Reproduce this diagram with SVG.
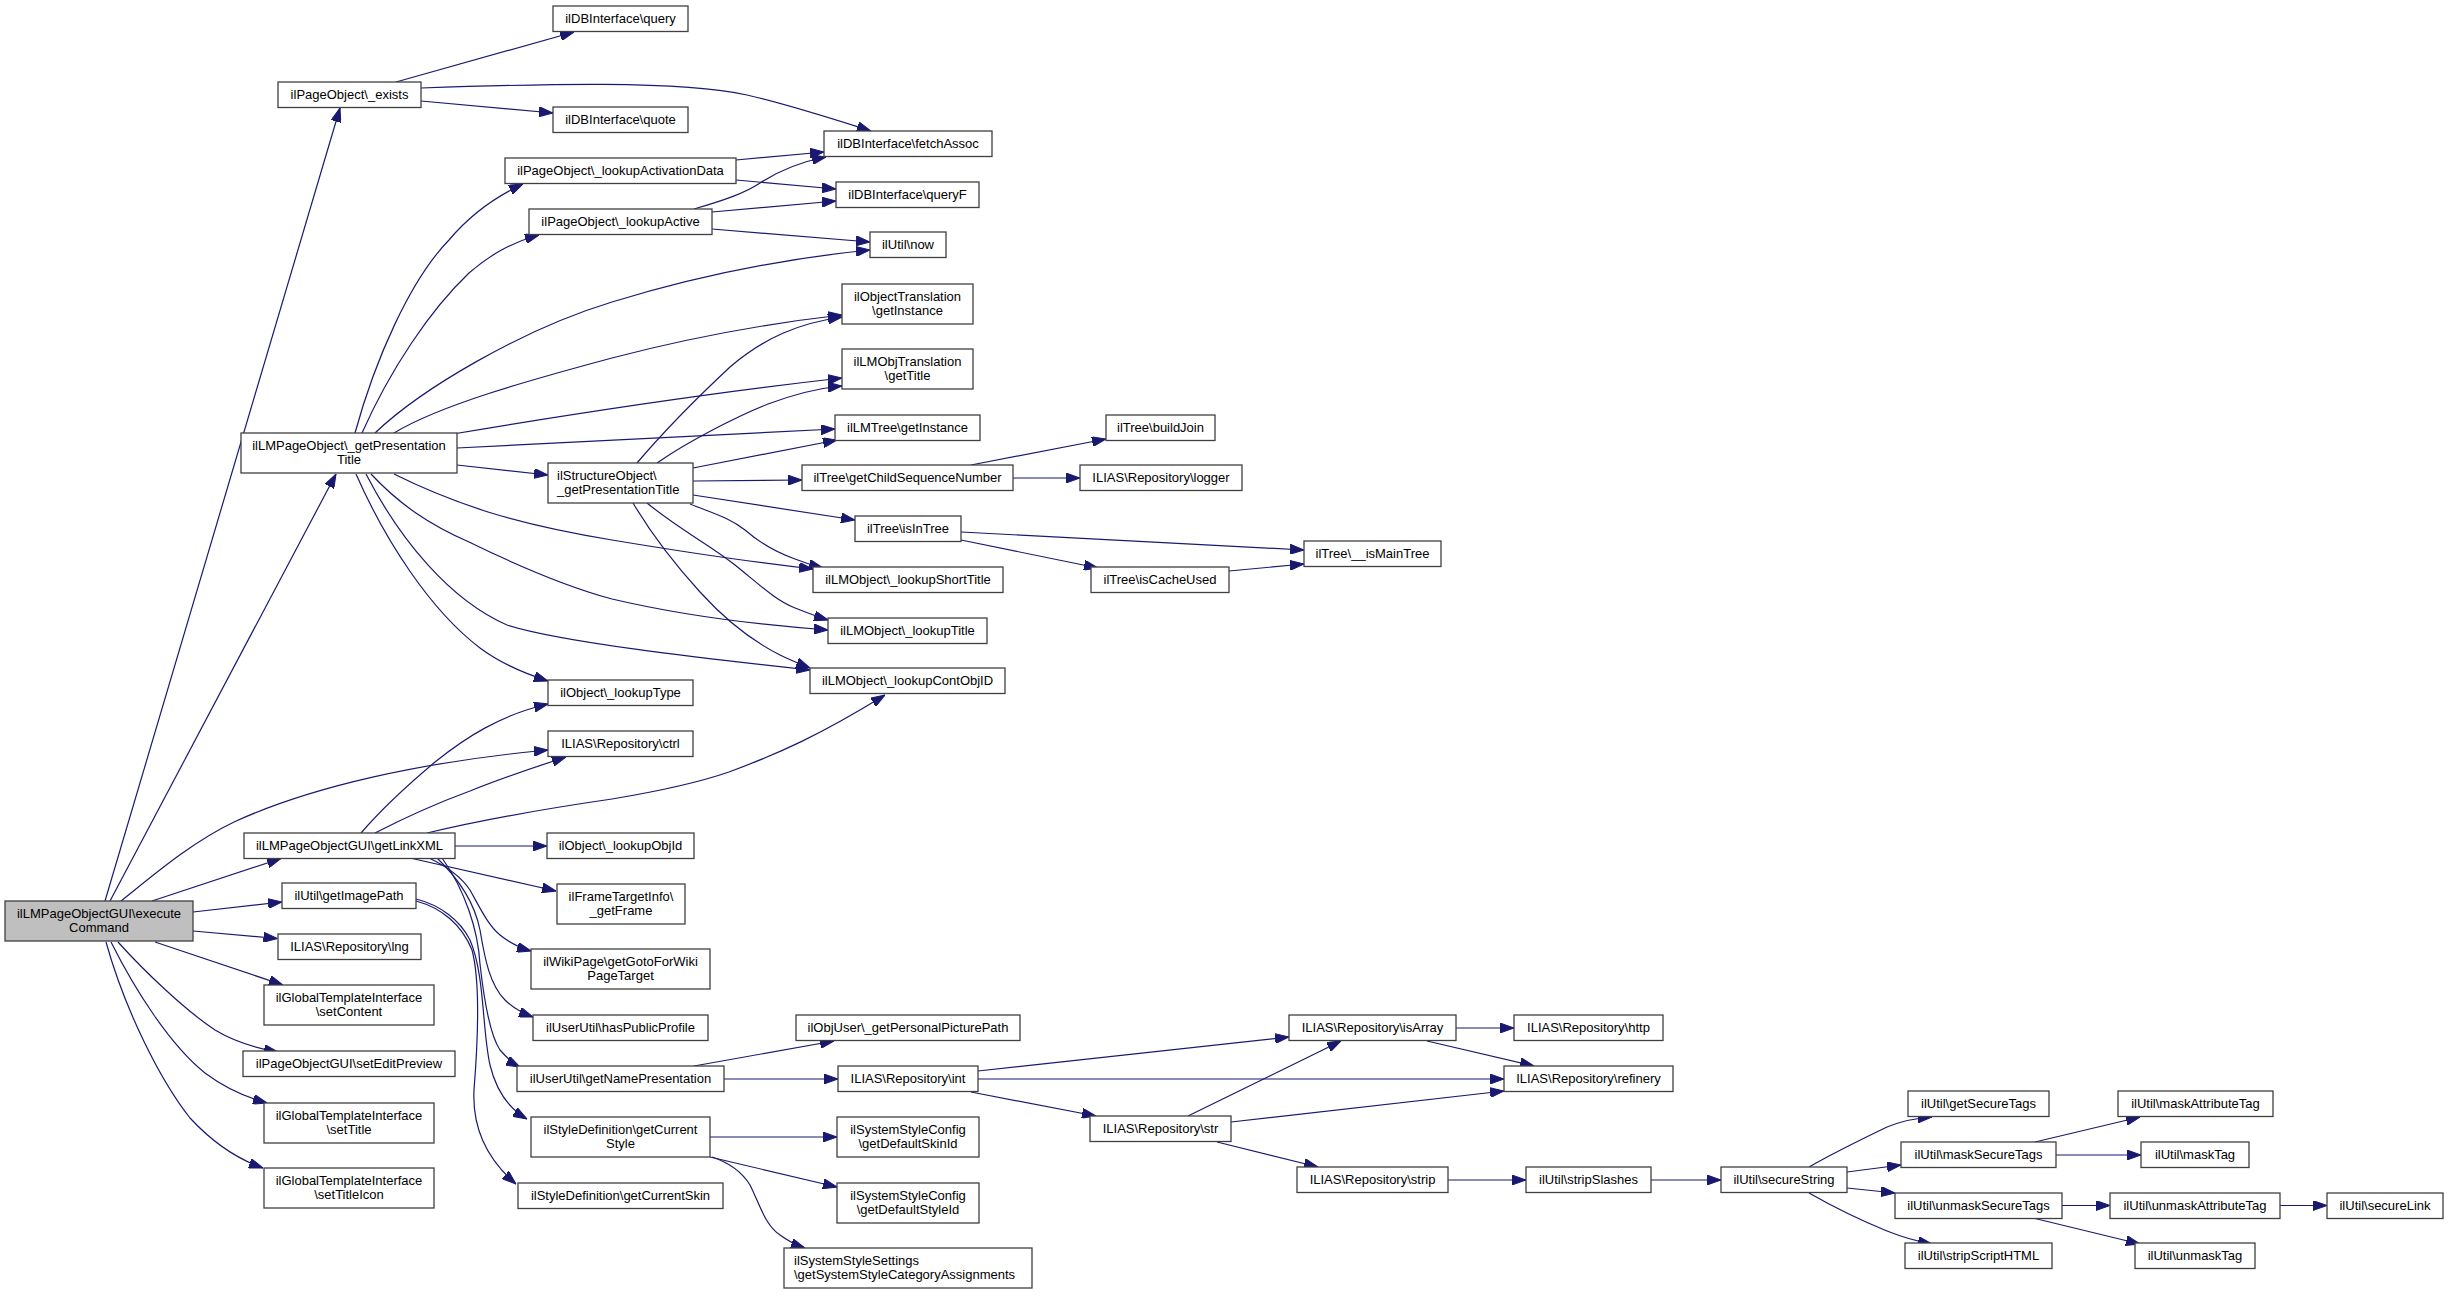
<svg xmlns="http://www.w3.org/2000/svg" width="2448" height="1294" viewBox="0 0 2448 1294">
<style>
.n rect{fill:#fff;stroke:#404040;stroke-width:1.3}
.root rect{fill:#bfbfbf;stroke:#404040}
text{font-family:"Liberation Sans",Arial,Helvetica,sans-serif;font-size:13px;fill:#000;text-anchor:middle}
.l text{text-anchor:start}
.edges path{fill:none;stroke:#191970;stroke-width:1.2;marker-end:url(#ah)}
</style>
<defs>
<marker id="ah" viewBox="0 0 14 10" refX="14" refY="5" markerUnits="userSpaceOnUse" markerWidth="14" markerHeight="10" orient="auto">
<path d="M0,0 L14,5 L0,10 z" fill="#191970" stroke="#191970" stroke-width="1"/>
</marker>
</defs>
<rect x="0" y="0" width="2448" height="1294" fill="#fff"/>
<g class="edges">
<path d="M105,901 L340,108"/>
<path d="M110,901 L336,474"/>
<path d="M121,901 C150,878 190,843 234,822 C310,787 420,762 548,750"/>
<path d="M152,901 L281,858.5"/>
<path d="M193,912 L282,902"/>
<path d="M193,931 L277.5,938.5"/>
<path d="M155,942 L283,985"/>
<path d="M118,942 C145,972 185,1010 215,1030 C235,1042 255,1048 278,1052"/>
<path d="M111,942 C135,990 170,1045 205,1073 C225,1088 245,1097 267,1103"/>
<path d="M106,942 C125,1010 160,1080 190,1118 C215,1145 240,1160 263,1168"/>
<path d="M396,82 L574,32"/>
<path d="M421,88 C540,84 680,80 747,95 C790,105 830,118 871,131"/>
<path d="M421,101 L553,113"/>
<path d="M736,160 L824,152"/>
<path d="M736,180 L836,189"/>
<path d="M694,209 C725,200 745,193 760,183 C780,170 800,162 826,157"/>
<path d="M712,212 L836,201"/>
<path d="M712,229 L870,242"/>
<path d="M355,433 C375,360 410,280 449,240 C470,215 495,197 523,184"/>
<path d="M362,433 C390,370 430,310 469,273 C490,255 510,243 539,235"/>
<path d="M375,433 C420,390 520,330 612,302 C700,275 790,258 870,250"/>
<path d="M394,433 C440,405 530,380 612,358 C700,335 780,322 842,315"/>
<path d="M453,434 C560,416 700,394 842,378"/>
<path d="M457,448 L835,429"/>
<path d="M457,465 L548,475"/>
<path d="M394,474 C430,492 460,503 488,512 C530,525 570,533 612,540 C690,553 760,563 813,569"/>
<path d="M371,474 C400,505 430,525 469,542 C510,562 560,585 612,599 C680,615 760,625 828,630"/>
<path d="M366,474 C400,540 450,600 507,625 C560,642 700,658 810,670"/>
<path d="M356,474 C385,540 430,610 480,648 C500,663 520,672 548,681"/>
<path d="M637,463 C665,430 700,395 730,367 C765,337 800,323 842,317"/>
<path d="M657,463 C690,440 740,415 768,404 C795,394 820,388 842,386"/>
<path d="M693,468 L837,440"/>
<path d="M693,481 L802,480"/>
<path d="M693,495 L855,520"/>
<path d="M690,504 C715,514 730,518 745,530 C760,543 775,552 795,559 C805,563 815,566 823,568"/>
<path d="M647,503 C680,530 710,545 735,565 C760,585 775,600 795,608 C808,613 818,617 828,620"/>
<path d="M633,503 C655,540 680,570 700,592 C730,625 760,645 780,655 C790,660 800,664 810,668"/>
<path d="M971,465 L1106,439"/>
<path d="M1013,478 L1080,478"/>
<path d="M961,532 L1304,550"/>
<path d="M961,540 L1098,568"/>
<path d="M1229,571 L1304,564"/>
<path d="M361,833 C385,805 410,783 435,762 C465,738 500,715 548,704"/>
<path d="M375,833 C410,815 440,802 470,791 C500,779 535,767 566,757"/>
<path d="M427,833 C490,818 550,808 612,799 C660,791 700,782 729,772 C780,753 820,735 885,695"/>
<path d="M455,846 L547,846"/>
<path d="M410,858 L556,891"/>
<path d="M429,858 C450,868 462,878 470,890 C480,908 488,925 500,935 C510,943 520,948 531,951"/>
<path d="M437,858 C460,880 475,905 480,930 C485,960 490,985 505,1000 C513,1008 522,1013 533,1017"/>
<path d="M442,858 C465,890 478,930 480,964 C484,1000 490,1035 500,1050 C507,1058 512,1063 520,1067"/>
<path d="M416,899 C440,905 460,920 470,940 C485,975 482,1030 490,1065 C496,1090 508,1108 527,1119"/>
<path d="M416,901 C442,908 462,925 472,950 C480,980 478,1040 474,1090 C472,1130 488,1160 516,1184"/>
<path d="M694,1066 L834,1041"/>
<path d="M724,1079 L838,1079"/>
<path d="M978,1071 L1289,1037"/>
<path d="M978,1079 L1504,1079"/>
<path d="M971,1092 L1096,1116"/>
<path d="M1188,1116 L1341,1041"/>
<path d="M1231,1122 L1504,1091"/>
<path d="M1217,1142 L1318,1167"/>
<path d="M1456,1028 L1514,1028"/>
<path d="M1427,1041 L1534,1066"/>
<path d="M710,1137 L837,1137"/>
<path d="M710,1157 L837,1187"/>
<path d="M712,1157 C730,1163 742,1172 750,1185 C760,1205 765,1225 780,1235 C788,1241 796,1245 805,1248"/>
<path d="M1448,1180 L1526,1180"/>
<path d="M1651,1180 L1721,1180"/>
<path d="M1809,1167 C1830,1155 1860,1140 1887,1127 C1902,1121 1915,1118 1932,1117"/>
<path d="M1847,1172 L1901,1165"/>
<path d="M1847,1188 L1895,1193"/>
<path d="M1809,1193 C1830,1205 1860,1220 1887,1231 C1902,1237 1915,1241 1932,1244"/>
<path d="M2035,1142 L2140,1117"/>
<path d="M2056,1155 L2141,1155"/>
<path d="M2062,1205.5 L2110,1205.5"/>
<path d="M2033,1218 L2140,1244"/>
<path d="M2280,1205.5 L2327,1205.5"/>
</g>
<g id="n_execute" class="n root"><rect x="5" y="901" width="188" height="40"/><text x="99" y="917.5">ilLMPageObjectGUI\execute</text><text x="99" y="932">Command</text></g>
<g id="n_exists" class="n"><rect x="278" y="82" width="143" height="25.5"/><text x="349.5" y="99">ilPageObject\_exists</text></g>
<g id="n_query" class="n"><rect x="553" y="6" width="135" height="25.5"/><text x="620.5" y="23">ilDBInterface\query</text></g>
<g id="n_quote" class="n"><rect x="553" y="107" width="135" height="25.5"/><text x="620.5" y="124">ilDBInterface\quote</text></g>
<g id="n_fetchAssoc" class="n"><rect x="824" y="131" width="168" height="25.5"/><text x="908" y="148">ilDBInterface\fetchAssoc</text></g>
<g id="n_lookupActivationData" class="n"><rect x="505" y="158" width="231" height="25.5"/><text x="620.5" y="175">ilPageObject\_lookupActivationData</text></g>
<g id="n_queryF" class="n"><rect x="836" y="182" width="143" height="25.5"/><text x="907.5" y="199">ilDBInterface\queryF</text></g>
<g id="n_lookupActive" class="n"><rect x="529" y="209" width="183" height="25.5"/><text x="620.5" y="226">ilPageObject\_lookupActive</text></g>
<g id="n_now" class="n"><rect x="870" y="232" width="76" height="25.5"/><text x="908" y="249">ilUtil\now</text></g>
<g id="n_objTransInst" class="n"><rect x="842" y="284" width="131" height="40"/><text x="907.5" y="300.5">ilObjectTranslation</text><text x="907.5" y="315">\getInstance</text></g>
<g id="n_lmObjTransTitle" class="n"><rect x="842" y="349" width="131" height="40"/><text x="907.5" y="365.5">ilLMObjTranslation</text><text x="907.5" y="380">\getTitle</text></g>
<g id="n_lmTreeInst" class="n"><rect x="835" y="415" width="145" height="25.5"/><text x="907.5" y="432">ilLMTree\getInstance</text></g>
<g id="n_buildJoin" class="n"><rect x="1106" y="415" width="109" height="25.5"/><text x="1160.5" y="432">ilTree\buildJoin</text></g>
<g id="n_getPresTitle" class="n"><rect x="241" y="433" width="216" height="40"/><text x="349" y="449.5">ilLMPageObject\_getPresentation</text><text x="349" y="464">Title</text></g>
<g id="n_structPresTitle" class="n l"><rect x="548" y="463" width="145" height="40"/><text x="557" y="479.5">ilStructureObject\</text><text x="557" y="494">_getPresentationTitle</text></g>
<g id="n_childSeq" class="n"><rect x="802" y="465" width="211" height="25.5"/><text x="907.5" y="482">ilTree\getChildSequenceNumber</text></g>
<g id="n_logger" class="n"><rect x="1080" y="465" width="162" height="25.5"/><text x="1161" y="482">ILIAS\Repository\logger</text></g>
<g id="n_isInTree" class="n"><rect x="855" y="516" width="106" height="25.5"/><text x="908" y="533">ilTree\isInTree</text></g>
<g id="n_isMainTree" class="n"><rect x="1304" y="541" width="137" height="25.5"/><text x="1372.5" y="558">ilTree\__isMainTree</text></g>
<g id="n_shortTitle" class="n"><rect x="813" y="567" width="190" height="25.5"/><text x="908" y="584">ilLMObject\_lookupShortTitle</text></g>
<g id="n_isCacheUsed" class="n"><rect x="1091" y="567" width="138" height="25.5"/><text x="1160" y="584">ilTree\isCacheUsed</text></g>
<g id="n_lookupTitle" class="n"><rect x="828" y="618" width="159" height="25.5"/><text x="907.5" y="635">ilLMObject\_lookupTitle</text></g>
<g id="n_contObjID" class="n"><rect x="810" y="668" width="195" height="25.5"/><text x="907.5" y="685">ilLMObject\_lookupContObjID</text></g>
<g id="n_lookupType" class="n"><rect x="548" y="680" width="145" height="25.5"/><text x="620.5" y="697">ilObject\_lookupType</text></g>
<g id="n_ctrl" class="n"><rect x="548" y="731" width="145" height="25.5"/><text x="620.5" y="748">ILIAS\Repository\ctrl</text></g>
<g id="n_getLinkXML" class="n"><rect x="244" y="833" width="211" height="25.5"/><text x="349.5" y="850">ilLMPageObjectGUI\getLinkXML</text></g>
<g id="n_lookupObjId" class="n"><rect x="547" y="833" width="147" height="25.5"/><text x="620.5" y="850">ilObject\_lookupObjId</text></g>
<g id="n_getImagePath" class="n"><rect x="282" y="883" width="134" height="25.5"/><text x="349" y="900">ilUtil\getImagePath</text></g>
<g id="n_getFrame" class="n"><rect x="557" y="884" width="128" height="40"/><text x="621" y="900.5">ilFrameTargetInfo\</text><text x="621" y="915">_getFrame</text></g>
<g id="n_lng" class="n"><rect x="278" y="934" width="143" height="25.5"/><text x="349.5" y="951">ILIAS\Repository\lng</text></g>
<g id="n_wikiGoto" class="n"><rect x="531" y="949" width="179" height="40"/><text x="620.5" y="965.5">ilWikiPage\getGotoForWiki</text><text x="620.5" y="980">PageTarget</text></g>
<g id="n_setContent" class="n"><rect x="264" y="985" width="170" height="40"/><text x="349" y="1001.5">ilGlobalTemplateInterface</text><text x="349" y="1016">\setContent</text></g>
<g id="n_hasPublicProfile" class="n"><rect x="533" y="1015" width="175" height="25.5"/><text x="620.5" y="1032">ilUserUtil\hasPublicProfile</text></g>
<g id="n_picturePath" class="n"><rect x="796" y="1015" width="224" height="25.5"/><text x="908" y="1032">ilObjUser\_getPersonalPicturePath</text></g>
<g id="n_isArray" class="n"><rect x="1289" y="1015" width="167" height="25.5"/><text x="1372.5" y="1032">ILIAS\Repository\isArray</text></g>
<g id="n_http" class="n"><rect x="1514" y="1015" width="149" height="25.5"/><text x="1588.5" y="1032">ILIAS\Repository\http</text></g>
<g id="n_setEditPreview" class="n"><rect x="243" y="1051" width="212" height="25.5"/><text x="349" y="1068">ilPageObjectGUI\setEditPreview</text></g>
<g id="n_namePresentation" class="n"><rect x="517" y="1066" width="207" height="25.5"/><text x="620.5" y="1083">ilUserUtil\getNamePresentation</text></g>
<g id="n_int" class="n"><rect x="838" y="1066" width="140" height="25.5"/><text x="908" y="1083">ILIAS\Repository\int</text></g>
<g id="n_refinery" class="n"><rect x="1504" y="1066" width="169" height="25.5"/><text x="1588.5" y="1083">ILIAS\Repository\refinery</text></g>
<g id="n_setTitle" class="n"><rect x="264" y="1103" width="170" height="40"/><text x="349" y="1119.5">ilGlobalTemplateInterface</text><text x="349" y="1134">\setTitle</text></g>
<g id="n_currentStyle" class="n"><rect x="531" y="1117" width="179" height="40"/><text x="620.5" y="1133.5">ilStyleDefinition\getCurrent</text><text x="620.5" y="1148">Style</text></g>
<g id="n_defaultSkinId" class="n"><rect x="837" y="1117" width="142" height="40"/><text x="908" y="1133.5">ilSystemStyleConfig</text><text x="908" y="1148">\getDefaultSkinId</text></g>
<g id="n_str" class="n"><rect x="1090" y="1116" width="141" height="25.5"/><text x="1160.5" y="1133">ILIAS\Repository\str</text></g>
<g id="n_setTitleIcon" class="n"><rect x="264" y="1168" width="170" height="40"/><text x="349" y="1184.5">ilGlobalTemplateInterface</text><text x="349" y="1199">\setTitleIcon</text></g>
<g id="n_currentSkin" class="n"><rect x="518" y="1183" width="205" height="25.5"/><text x="620.5" y="1200">ilStyleDefinition\getCurrentSkin</text></g>
<g id="n_defaultStyleId" class="n"><rect x="837" y="1183" width="142" height="40"/><text x="908" y="1199.5">ilSystemStyleConfig</text><text x="908" y="1214">\getDefaultStyleId</text></g>
<g id="n_strip" class="n"><rect x="1297" y="1167" width="151" height="25.5"/><text x="1372.5" y="1184">ILIAS\Repository\strip</text></g>
<g id="n_stripSlashes" class="n"><rect x="1526" y="1167" width="125" height="25.5"/><text x="1588.5" y="1184">ilUtil\stripSlashes</text></g>
<g id="n_secureString" class="n"><rect x="1721" y="1167" width="126" height="25.5"/><text x="1784" y="1184">ilUtil\secureString</text></g>
<g id="n_getSecureTags" class="n"><rect x="1908" y="1091" width="141" height="25.5"/><text x="1978.5" y="1108">ilUtil\getSecureTags</text></g>
<g id="n_maskAttributeTag" class="n"><rect x="2118" y="1091" width="155" height="25.5"/><text x="2195.5" y="1108">ilUtil\maskAttributeTag</text></g>
<g id="n_maskSecureTags" class="n"><rect x="1901" y="1142" width="155" height="25.5"/><text x="1978.5" y="1159">ilUtil\maskSecureTags</text></g>
<g id="n_maskTag" class="n"><rect x="2141" y="1142" width="108" height="25.5"/><text x="2195" y="1159">ilUtil\maskTag</text></g>
<g id="n_unmaskSecureTags" class="n"><rect x="1895" y="1193" width="167" height="25.5"/><text x="1978.5" y="1210">ilUtil\unmaskSecureTags</text></g>
<g id="n_unmaskAttributeTag" class="n"><rect x="2110" y="1193" width="170" height="25.5"/><text x="2195" y="1210">ilUtil\unmaskAttributeTag</text></g>
<g id="n_secureLink" class="n"><rect x="2327" y="1193" width="116" height="25.5"/><text x="2385" y="1210">ilUtil\secureLink</text></g>
<g id="n_stripScriptHTML" class="n"><rect x="1905" y="1243" width="147" height="25.5"/><text x="1978.5" y="1260">ilUtil\stripScriptHTML</text></g>
<g id="n_unmaskTag" class="n"><rect x="2135" y="1243" width="120" height="25.5"/><text x="2195" y="1260">ilUtil\unmaskTag</text></g>
<g id="n_categoryAssignments" class="n l"><rect x="784" y="1248" width="248" height="40"/><text x="794" y="1264.5">ilSystemStyleSettings</text><text x="794" y="1279">\getSystemStyleCategoryAssignments</text></g>
</svg>
